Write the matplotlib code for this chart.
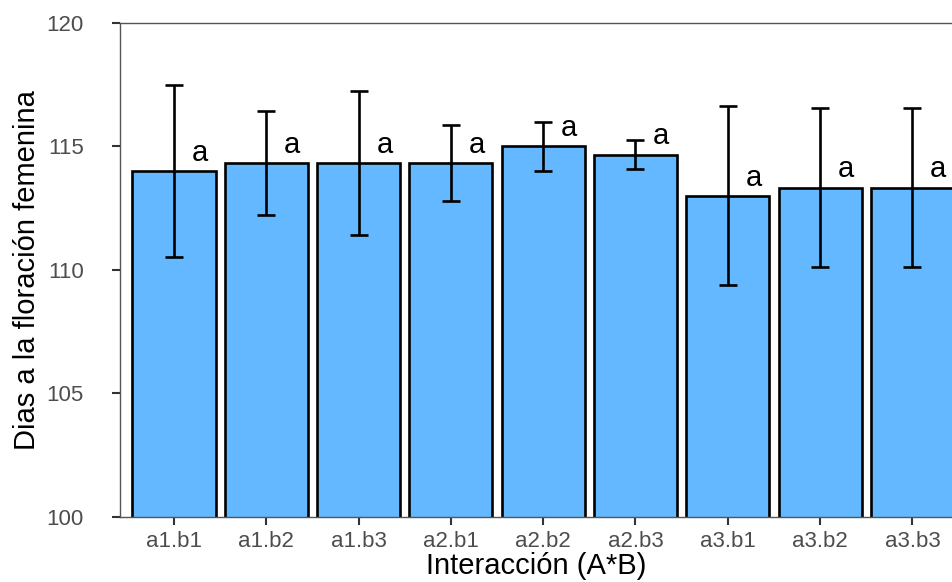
import numpy as np
import matplotlib
matplotlib.use('Agg')
import matplotlib.pyplot as plt

# datos
tratamientos = ['a1.b1', 'a1.b2', 'a1.b3', 'a2.b1', 'a2.b2', 'a2.b3', 'a3.b1', 'a3.b2', 'a3.b3']
medias = [114.0, 114.33, 114.33, 114.33, 115.0, 114.67, 113.0, 113.33, 113.33]
errores = [3.47, 2.1, 2.9, 1.53, 1.0, 0.58, 3.62, 3.22, 3.22]
letras = ['a'] * 9

plt.rcParams['font.family'] = ['Liberation Sans', 'DejaVu Sans']

W, H = 953, 582
fig = plt.figure(figsize=(W / 100, H / 100), dpi=100)
ax = fig.add_axes([120 / W, (H - 517) / H, (W - 120) / W, (517 - 23) / H])

x = np.arange(len(tratamientos))
ax.bar(x, medias, width=0.9, color='#63B8FF', edgecolor='black', linewidth=1.9,
       bottom=0, zorder=2)
ax.errorbar(x, medias, yerr=errores, fmt='none', ecolor='black', elinewidth=1.9,
            capsize=6.5, capthick=1.9, zorder=3)
for xi, m, l in zip(x, medias, letras):
    ax.text(xi + 0.28, m + 0.42, l, ha='center', va='baseline', fontsize=21, zorder=4)

ax.set_ylim(100, 120)
ax.set_xlim(-0.585, 8.44)
ax.set_yticks([100, 105, 110, 115, 120])
ax.set_xticks(x)
ax.set_xticklabels(tratamientos)

for s in ['left', 'top', 'bottom']:
    ax.spines[s].set_color('#555555')
    ax.spines[s].set_linewidth(1.0)
ax.spines['right'].set_visible(False)
ax.tick_params(axis='both', colors='#333333', labelcolor='#4D4D4D', labelsize=16,
               length=6, width=1.5)
ax.tick_params(axis='y', pad=20)
ax.tick_params(axis='x', pad=4)

ax.set_xlabel('Interacción (A*B)', fontsize=21, labelpad=0)
ax.set_ylabel('Dias a la floración femenina', fontsize=21, labelpad=4)

fig.savefig('out.png', dpi=100)
